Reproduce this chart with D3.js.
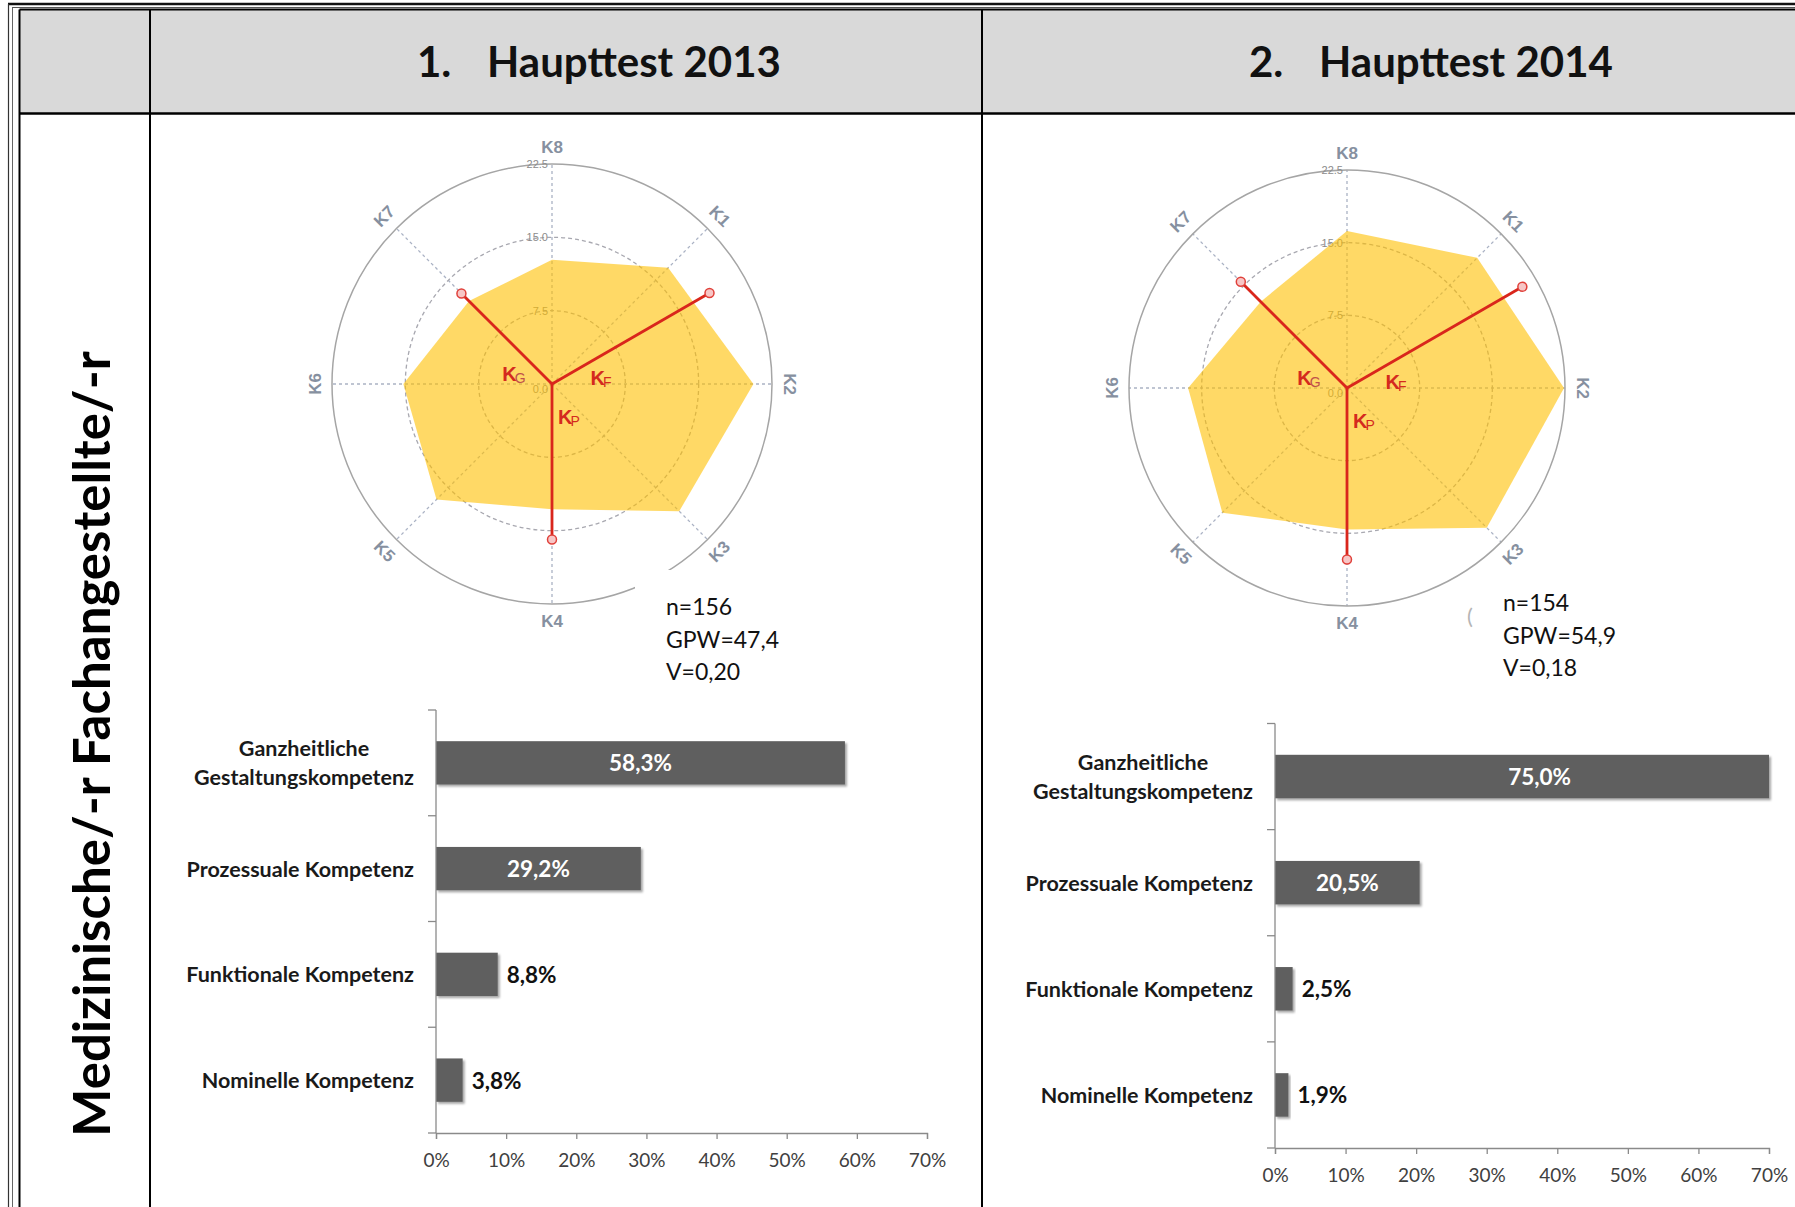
<!DOCTYPE html>
<html>
<head>
<meta charset="UTF-8" />
<title>Haupttest 2013 / 2014</title>
<script src="https://d3js.org/d3.v7.min.js"></script>
<style>
	body { margin: 0; background: #fff; }
	svg { display: block; font-family: Lato, "Open Sans", sans-serif; }
</style>
</head>
<body>
<div id="main"></div>
<script>
var width = 1795, height = 1207;

// Kompetenzprofil, Achsen K1..K8 (Skala 0 - 22.5)
var achsen = ['K1', 'K2', 'K3', 'K4', 'K5', 'K6', 'K7', 'K8'];
var ringe = [0, 7.5, 15, 22.5];
var ringLabels = ['0.0', '7.5', '15.0', '22.5'];
var profil2013 = [16.8, 20.6, 18.4, 12.8, 16.7, 15.2, 12.0, 12.7];
var profil2014 = [19.0, 22.4, 20.4, 14.6, 18.2, 16.4, 12.6, 16.2];

// Kompetenzvektoren K_F, K_P, K_G
var vektorNamen = ['F', 'P', 'G'];
var vektorWinkel = [60, 180, 315];
var vektoren2013 = [18.6, 15.9, 13.1];
var vektoren2014 = [20.9, 17.7, 15.5];

var kennzahlen2013 = ['n=156', 'GPW=47,4', 'V=0,20'];
var kennzahlen2014 = ['n=154', 'GPW=54,9', 'V=0,18'];

// Kompetenzniveaus in %
var kategorien = [['Ganzheitliche', 'Gestaltungskompetenz'], ['Prozessuale Kompetenz'], ['Funktionale Kompetenz'], ['Nominelle Kompetenz']];
var anteile2013 = [58.3, 29.2, 8.8, 3.8];
var anteile2014 = [75.0, 20.5, 2.5, 1.9];
var xTicks = [0, 10, 20, 30, 40, 50, 60, 70];

var svg = d3.select('#main').append('svg').attr('width', width).attr('height', height);

var defs = svg.append('defs');
defs.append('filter').attr('id', 'shadow').attr('x', '-5%').attr('y', '-20%').attr('width', '120%').attr('height', '160%')
	.append('feDropShadow').attr('dx', 2).attr('dy', 2).attr('stdDeviation', 1.2)
	.attr('flood-color', '#000').attr('flood-opacity', 0.35);

// ---- table frame
svg.append('rect').attr('x', 19.5).attr('y', 9.5).attr('width', width - 19.5).attr('height', 104).attr('fill', '#d9d9d9');
svg.append('line').attr('x1', 8).attr('x2', width).attr('y1', 4).attr('y2', 4).attr('stroke', '#111').attr('stroke-width', 2.5);
svg.append('line').attr('x1', 12).attr('x2', width).attr('y1', 7.5).attr('y2', 7.5).attr('stroke', '#555').attr('stroke-width', 1);
svg.append('line').attr('x1', 8.5).attr('x2', 8.5).attr('y1', 4).attr('y2', height).attr('stroke', '#333').attr('stroke-width', 1.2);
svg.append('line').attr('x1', 12.5).attr('x2', 12.5).attr('y1', 7.5).attr('y2', height).attr('stroke', '#666').attr('stroke-width', 1);
svg.append('line').attr('x1', 19.5).attr('x2', width).attr('y1', 9.5).attr('y2', 9.5).attr('stroke', '#000').attr('stroke-width', 2);
svg.append('line').attr('x1', 19.5).attr('x2', width).attr('y1', 113.5).attr('y2', 113.5).attr('stroke', '#000').attr('stroke-width', 2.5);
[19.5, 150, 982].forEach(function (x) {
	svg.append('line').attr('x1', x).attr('x2', x).attr('y1', 9.5).attr('y2', height).attr('stroke', '#000').attr('stroke-width', 2);
});

function titel(xNum, xText, nr, text) {
	svg.append('text').attr('x', xNum).attr('y', 77).attr('font-size', 42).attr('font-weight', 'bold').attr('fill', '#111').text(nr);
	svg.append('text').attr('x', xText).attr('y', 77).attr('font-size', 42).attr('font-weight', 'bold').attr('fill', '#111').text(text);
}
titel(417, 487, '1.', 'Haupttest 2013');
titel(1249, 1319, '2.', 'Haupttest 2014');

svg.append('text').attr('transform', 'translate(90,744) rotate(-90)')
	.attr('text-anchor', 'middle').attr('dominant-baseline', 'central')
	.attr('font-size', 51).attr('font-weight', 'bold').attr('fill', '#000')
	.text('Medizinische/-r Fachangestellte/-r');

// ---- radar
function radar(cx, cy, R, profil, vektoren) {
	var g = svg.append('g').attr('transform', 'translate(' + cx + ',' + cy + ')');
	var r = d3.scaleLinear().domain([0, 22.5]).range([0, R]);
	var winkel = function (i) { return (i + 1) * Math.PI / 4; };

	g.selectAll('.spoke').data(achsen).enter().append('line').attr('class', 'spoke')
		.attr('x1', 0).attr('y1', 0)
		.attr('x2', function (d, i) { return R * Math.sin(winkel(i)); })
		.attr('y2', function (d, i) { return -R * Math.cos(winkel(i)); })
		.attr('stroke', '#aab2c4').attr('stroke-width', 1.3).attr('stroke-dasharray', '3,3');

	g.selectAll('.ring').data(ringe.slice(1)).enter().append('circle').attr('class', 'ring')
		.attr('r', function (d) { return r(d); })
		.attr('fill', 'none')
		.attr('stroke', function (d) { return d === 22.5 ? '#a5a5a5' : '#a8a8b0'; })
		.attr('stroke-width', function (d) { return d === 22.5 ? 1.5 : 1.3; })
		.attr('stroke-dasharray', function (d) { return d === 22.5 ? null : '4,3'; });

	g.selectAll('.ringlabel').data(ringe).enter().append('text').attr('class', 'ringlabel')
		.attr('x', -4).attr('y', function (d) { return d === 0 ? 5 : -r(d); })
		.attr('text-anchor', 'end').attr('dominant-baseline', 'central')
		.attr('font-family', '"Liberation Sans", Arial, sans-serif').attr('font-size', 11).attr('fill', '#8c8c8c')
		.text(function (d, i) { return ringLabels[i]; });

	g.selectAll('.achse').data(achsen).enter().append('text').attr('class', 'achse')
		.attr('transform', function (d, i) {
			var a = winkel(i), deg = (i + 1) * 45;
			var rot = deg <= 90 ? deg : (deg < 270 ? deg - 180 : deg - 360);
			return 'translate(' + ((R + 17) * Math.sin(a)) + ',' + (-(R + 17) * Math.cos(a)) + ') rotate(' + rot + ')';
		})
		.attr('text-anchor', 'middle').attr('dominant-baseline', 'central')
		.attr('font-family', '"Liberation Sans", Arial, sans-serif').attr('font-size', 17).attr('font-weight', 'bold')
		.attr('fill', '#8690a0')
		.text(function (d) { return d; });

	var line = d3.lineRadial()
		.angle(function (d, i) { return winkel(i); })
		.radius(function (d) { return r(d); })
		.curve(d3.curveLinearClosed);
	g.append('path').attr('d', line(profil)).attr('fill', '#ffc000').attr('fill-opacity', 0.6);

	var ends = vektoren.map(function (v, i) {
		var a = vektorWinkel[i] * Math.PI / 180;
		return [r(v) * Math.sin(a), -r(v) * Math.cos(a)];
	});
	g.selectAll('.vektor').data(ends).enter().append('line').attr('class', 'vektor')
		.attr('x1', 0).attr('y1', 0)
		.attr('x2', function (d) { return d[0]; }).attr('y2', function (d) { return d[1]; })
		.attr('stroke', '#d9261c').attr('stroke-width', 2.8);
	g.selectAll('.vend').data(ends).enter().append('circle').attr('class', 'vend')
		.attr('cx', function (d) { return d[0]; }).attr('cy', function (d) { return d[1]; })
		.attr('r', 4.5).attr('fill', '#f7c6c6').attr('stroke', '#e0403a').attr('stroke-width', 1.5);

	var labelPos = { F: [49, -6], P: [17, 33], G: [-38, -10] };
	vektorNamen.forEach(function (n) {
		var t = g.append('text').attr('x', labelPos[n][0]).attr('y', labelPos[n][1])
			.attr('text-anchor', 'middle').attr('dominant-baseline', 'central')
			.attr('font-family', '"Liberation Sans", Arial, sans-serif').attr('font-weight', 'bold').attr('fill', '#d42a1e');
		t.append('tspan').attr('font-size', 20).attr('letter-spacing', -2).text('K');
		t.append('tspan').attr('font-size', 14).attr('dy', 4).attr('font-weight', 'normal')
			.attr('fill', n === 'G' ? '#c0504a' : '#d42a1e').text(n);
	});
}

radar(552, 384, 220, profil2013, vektoren2013);
radar(1347, 388, 218, profil2014, vektoren2014);

// white text boxes covering the lower right of the circles
function kennzahlen(bx, by, tx, ty, zeilen) {
	svg.append('rect').attr('x', bx).attr('y', by).attr('width', 300).attr('height', 115).attr('fill', '#fff');
	svg.selectAll(null).data(zeilen).enter().append('text')
		.attr('x', tx).attr('y', function (d, i) { return ty + i * 32.5; })
		.attr('dominant-baseline', 'central').attr('font-size', 23).attr('fill', '#111')
		.text(function (d) { return d; });
}
kennzahlen(635, 570, 666, 606, kennzahlen2013);
kennzahlen(1473, 580, 1503, 602, kennzahlen2014);
svg.append('text').attr('x', 1467).attr('y', 615).attr('dominant-baseline', 'central')
	.attr('font-size', 22).attr('fill', '#b5b5b5').text('(');

// ---- bar charts
function balken(x0, x1, y0, y1, anteile) {
	var g = svg.append('g');
	var x = d3.scaleLinear().domain([0, 70]).range([x0, x1]);
	var xc = x.copy().clamp(true);
	var y = d3.scaleBand().domain(d3.range(kategorien.length)).range([y0, y1]).paddingInner(0.59).paddingOuter(0.295);
	var step = y.step();

	g.selectAll('.bar').data(anteile).enter().append('rect').attr('class', 'bar')
		.attr('x', x0).attr('y', function (d, i) { return y(i); })
		.attr('width', function (d) { return xc(d) - x0; }).attr('height', y.bandwidth())
		.attr('fill', '#5f5f5f').attr('filter', 'url(#shadow)');

	var xAxis = g.append('g').attr('transform', 'translate(0,' + y1 + ')')
		.call(d3.axisBottom(x).tickValues(xTicks).tickSize(6).tickPadding(15).tickFormat(function (d) { return d + '%'; }));
	xAxis.select('.domain').attr('stroke', '#8a8a8a').attr('stroke-width', 1.3);
	xAxis.selectAll('.tick line').attr('stroke', '#8a8a8a').attr('stroke-width', 1.3);
	xAxis.selectAll('.tick text').attr('font-family', 'Lato, sans-serif').attr('font-size', 19).attr('fill', '#404040');

	g.append('line').attr('x1', x0).attr('x2', x0).attr('y1', y0).attr('y2', y1).attr('stroke', '#8a8a8a').attr('stroke-width', 1.3);
	g.selectAll('.ytick').data(d3.range(kategorien.length + 1)).enter().append('line').attr('class', 'ytick')
		.attr('x1', x0 - 8).attr('x2', x0).attr('y1', function (d) { return y0 + d * step; }).attr('y2', function (d) { return y0 + d * step; })
		.attr('stroke', '#8a8a8a').attr('stroke-width', 1.3);

	g.selectAll('.cat').data(kategorien).enter().append('text').attr('class', 'cat')
		.attr('x', x0 - 22).attr('text-anchor', 'end')
		.attr('font-size', 21.5).attr('font-weight', 'bold').attr('fill', '#1a1a1a')
		.each(function (d, i) {
			var t = d3.select(this), cy = y(i) + y.bandwidth() / 2;
			if (d.length === 1) {
				t.attr('y', cy).attr('dominant-baseline', 'central').text(d[0]);
			} else {
				t.attr('y', cy + 14).attr('dominant-baseline', 'central').text(d[1]);
				var w = this.getComputedTextLength();
				g.append('text').attr('x', x0 - 22 - w / 2).attr('y', cy - 15).attr('text-anchor', 'middle')
					.attr('dominant-baseline', 'central').attr('font-size', 21.5).attr('font-weight', 'bold').attr('fill', '#1a1a1a')
					.text(d[0]);
			}
		});

	g.selectAll('.val').data(anteile).enter().append('text').attr('class', 'val')
		.attr('x', function (d) { return d > 15 ? (x0 + x(d)) / 2 : x(d) + 9; })
		.attr('y', function (d, i) { return y(i) + y.bandwidth() / 2; })
		.attr('text-anchor', function (d) { return d > 15 ? 'middle' : 'start'; })
		.attr('dominant-baseline', 'central').attr('font-size', 22.5).attr('font-weight', 'bold')
		.attr('fill', function (d) { return d > 15 ? '#fff' : '#111'; })
		.text(function (d) { return d.toFixed(1).replace('.', ',') + '%'; });
}

balken(436, 927, 710, 1133, anteile2013);
balken(1275, 1769, 723.5, 1148, anteile2014);
</script>
</body>
</html>
